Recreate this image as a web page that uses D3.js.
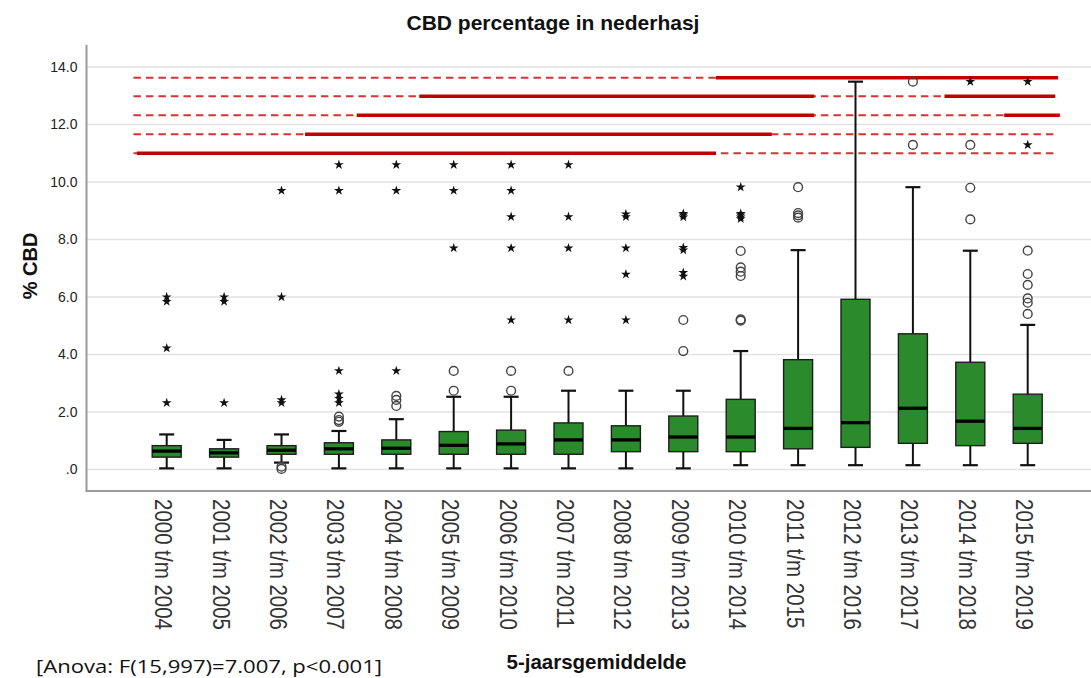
<!DOCTYPE html>
<html>
<head>
<meta charset="utf-8">
<script src="https://cdn.jsdelivr.net/npm/d3@7"></script>
<style>
  html, body { margin: 0; padding: 0; background: #fff; }
  svg { display: block; }
</style>
</head>
<body>
<svg id="chart" width="1091" height="678"></svg>
<script>
// ---------- DATA ----------
const categories = [
  "2000 t/m 2004","2001 t/m 2005","2002 t/m 2006","2003 t/m 2007",
  "2004 t/m 2008","2005 t/m 2009","2006 t/m 2010","2007 t/m 2011",
  "2008 t/m 2012","2009 t/m 2013","2010 t/m 2014","2011 t/m 2015",
  "2012 t/m 2016","2013 t/m 2017","2014 t/m 2018","2015 t/m 2019"
];
const whiskerLow  = [0.04,0.04,0.24,0.04,0.04,0.04,0.04,0.04,0.04,0.04,0.15,0.15,0.15,0.15,0.15,0.15];
const q1          = [0.43,0.43,0.53,0.53,0.53,0.53,0.53,0.53,0.62,0.62,0.62,0.72,0.77,0.91,0.83,0.91];
const median      = [0.64,0.58,0.67,0.72,0.74,0.84,0.89,1.03,1.03,1.13,1.13,1.43,1.63,2.13,1.68,1.43];
const q3          = [0.83,0.72,0.83,0.93,1.03,1.32,1.37,1.62,1.52,1.86,2.44,3.82,5.92,4.72,3.73,2.62];
const whiskerHigh = [1.22,1.03,1.22,1.34,1.75,2.53,2.53,2.74,2.74,2.74,4.12,7.63,13.49,9.82,7.61,5.03];
const circleOutliers = [
  [], [], [0.1,0.02], [1.84,1.72,1.66], [2.56,2.42,2.21], [3.43,2.74], [3.43,2.74], [3.43],
  [], [5.2,4.12], [7.6,7.03,6.88,6.73,5.22,5.18], [9.82,8.92,8.84,8.76], [], [13.49,11.29],
  [11.29,9.8,8.7], [7.61,6.8,6.42,5.95,5.8,5.41]
];
const starOutliers = [
  [6.0,5.84,4.22,2.32], [6.0,5.84,2.32], [9.7,6.0,2.42,2.32], [10.6,9.7,3.43,2.62,2.47,2.32],
  [10.6,9.7,3.43], [10.6,9.7,7.7], [10.6,9.7,8.79,7.7,5.2], [10.6,8.79,7.7,5.2],
  [8.88,8.79,7.7,6.79,5.2], [8.9,8.85,8.78,7.72,7.63,6.85,6.72], [9.82,8.9,8.85,8.78,8.72], [],
  [], [], [13.49], [13.49,11.29]
];
const yTickValues = [0,2,4,6,8,10,12,14];
const yTickLabels = [".0","2.0","4.0","6.0","8.0","10.0","12.0","14.0"];
// significance rows: level (in % CBD), dashed span and solid spans in category-index units
const sigLevels = [13.63, 12.98, 12.32, 11.66, 11.0];
const sigDashedSpan = [-0.58, 15.51];
const sigSolidSpans = [
  [[9.57, 15.53]],
  [[4.40, 11.28], [13.55, 15.48]],
  [[3.31, 11.28], [14.59, 15.56]],
  [[2.41, 10.54]],
  [[-0.52, 9.57]]
];
const titleText = "CBD percentage in nederhasj";
const xTitle = "5-jaarsgemiddelde";
const yTitle = "% CBD";
const noteText = "[Anova: F(15,997)=7.007, p<0.001]";

// ---------- LAYOUT ----------
const svg = d3.select("#chart");
const W = 1091, H = 678;
const axisLeftX = 86.5, axisBottomY = 491, axisTopY = 45;

const y = d3.scaleLinear().domain([0, 14]).range([469.5, 67]);
const x = d3.scalePoint().domain(categories).range([166.7, 1027.7]);
const xi = d3.scaleLinear().domain([0, categories.length - 1]).range([166.7, 1027.7]);
const boxW = 29, capW = 15;

// gridlines
svg.append("g").selectAll("line").data(yTickValues).join("line")
  .attr("x1", axisLeftX).attr("x2", W)
  .attr("y1", d => y(d)).attr("y2", d => y(d))
  .attr("stroke", "#e2e2e2").attr("stroke-width", 1.6);

// y axis labels
const yAxis = d3.axisLeft(y).tickValues(yTickValues)
  .tickFormat((d, i) => yTickLabels[i]).tickSize(0).tickPadding(9);
const gy = svg.append("g").attr("transform", `translate(${axisLeftX},0)`).call(yAxis);
gy.select(".domain").remove();
gy.selectAll("text").attr("font-family", "Liberation Sans, Arial, sans-serif")
  .attr("font-size", 14).attr("fill", "#222");

// axis lines
svg.append("line").attr("x1", axisLeftX).attr("x2", axisLeftX)
  .attr("y1", axisTopY).attr("y2", axisBottomY)
  .attr("stroke", "#9a9a9a").attr("stroke-width", 2);
svg.append("line").attr("x1", axisLeftX - 1).attr("x2", W)
  .attr("y1", axisBottomY).attr("y2", axisBottomY)
  .attr("stroke", "#9a9a9a").attr("stroke-width", 2);

// x labels (rotated)
const xAxis = d3.axisBottom(x).tickSize(0).tickPadding(0);
const gx = svg.append("g").attr("transform", `translate(0,${axisBottomY})`).call(xAxis);
gx.select(".domain").remove();
gx.selectAll(".tick text")
  .attr("font-family", "Liberation Sans, Arial, sans-serif")
  .attr("font-size", 20.5).attr("fill", "#333")
  .attr("text-anchor", "start").attr("dy", null).attr("y", null)
  .attr("transform", "translate(-12,8) rotate(90) scale(1,1.2)");

// significance lines
const sig = svg.append("g");
sig.selectAll("line.dash").data(sigLevels).join("line").attr("class", "dash")
  .attr("x1", xi(sigDashedSpan[0])).attr("x2", xi(sigDashedSpan[1]))
  .attr("y1", d => y(d)).attr("y2", d => y(d))
  .attr("stroke", "#d63434").attr("stroke-width", 2)
  .attr("stroke-dasharray", "7.5,5");
sigSolidSpans.forEach((spans, r) => {
  sig.selectAll(null).data(spans).join("line")
    .attr("x1", d => xi(d[0])).attr("x2", d => xi(d[1]))
    .attr("y1", y(sigLevels[r])).attr("y2", y(sigLevels[r]))
    .attr("stroke", "#c00000").attr("stroke-width", 3.5);
});

// boxes
const boxes = svg.append("g");
categories.forEach((c, i) => {
  const cx = x(c);
  const g = boxes.append("g");
  g.append("line").attr("x1", cx).attr("x2", cx)
    .attr("y1", y(whiskerHigh[i])).attr("y2", y(q3[i]))
    .attr("stroke", "#111").attr("stroke-width", 2);
  g.append("line").attr("x1", cx).attr("x2", cx)
    .attr("y1", y(q1[i])).attr("y2", y(whiskerLow[i]))
    .attr("stroke", "#111").attr("stroke-width", 2);
  [whiskerHigh[i], whiskerLow[i]].forEach(v => {
    g.append("line").attr("x1", cx - capW / 2).attr("x2", cx + capW / 2)
      .attr("y1", y(v)).attr("y2", y(v))
      .attr("stroke", "#111").attr("stroke-width", 2.2);
  });
  g.append("rect").attr("x", cx - boxW / 2).attr("width", boxW)
    .attr("y", y(q3[i])).attr("height", y(q1[i]) - y(q3[i]))
    .attr("fill", "#2b8a2b").attr("stroke", "#1e1e1e").attr("stroke-width", 1.4);
  g.append("line").attr("x1", cx - boxW / 2).attr("x2", cx + boxW / 2)
    .attr("y1", y(median[i])).attr("y2", y(median[i]))
    .attr("stroke", "#000").attr("stroke-width", 3.3);
  g.selectAll("circle").data(circleOutliers[i]).join("circle")
    .attr("cx", cx).attr("cy", d => y(d)).attr("r", 4.4)
    .attr("fill", "none").attr("stroke", "#444").attr("stroke-width", 1.4);
  g.selectAll("path.star").data(starOutliers[i]).join("path").attr("class", "star")
    .attr("d", d3.symbol(d3.symbolStar, 30))
    .attr("transform", d => `translate(${cx},${y(d)})`)
    .attr("fill", "#111");
});

// titles
svg.append("text").attr("x", 553).attr("y", 30).attr("text-anchor", "middle")
  .attr("font-family", "Liberation Sans, Arial, sans-serif")
  .attr("font-weight", "bold").attr("font-size", 21).attr("fill", "#111")
  .text(titleText);
svg.append("text").attr("transform", "translate(37,266) rotate(-90)")
  .attr("text-anchor", "middle")
  .attr("font-family", "Liberation Sans, Arial, sans-serif")
  .attr("font-weight", "bold").attr("font-size", 20).attr("fill", "#111")
  .text(yTitle);
svg.append("text").attr("x", 596.5).attr("y", 669).attr("text-anchor", "middle")
  .attr("font-family", "Liberation Sans, Arial, sans-serif")
  .attr("font-weight", "bold").attr("font-size", 20.5).attr("fill", "#111")
  .text(xTitle);
svg.append("text").attr("x", 36).attr("y", 673)
  .attr("font-family", "Open Sans, Noto Sans, sans-serif")
  .attr("font-size", 19).attr("fill", "#111")
  .attr("textLength", 346).attr("lengthAdjust", "spacingAndGlyphs")
  .text(noteText);
</script>
</body>
</html>
